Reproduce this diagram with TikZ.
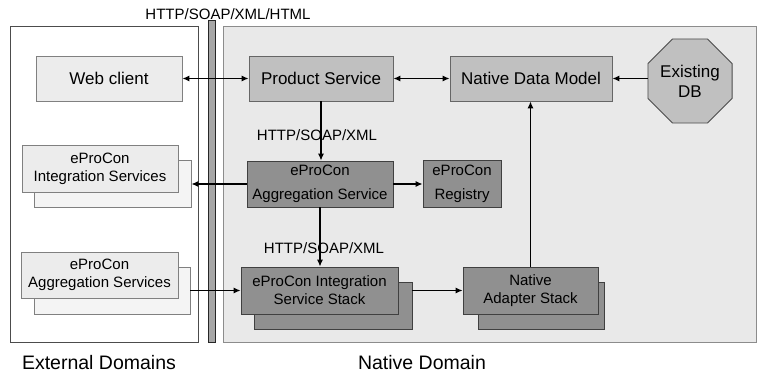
\documentclass[tikz,border=0pt]{standalone}
\usepackage{fontspec}
\setmainfont{Liberation Sans}
\usetikzlibrary{arrows.meta,shapes.geometric}
\definecolor{boxlight}{HTML}{ECECEC}
\definecolor{boxback}{HTML}{F4F4F4}
\definecolor{boxmid}{HTML}{C0C0C0}
\definecolor{boxdark}{HTML}{909090}
\definecolor{nativebg}{HTML}{E9E9E9}
\definecolor{barfill}{HTML}{A6A6A6}
\tikzset{
  big/.style={font=\fontsize{17}{20}\selectfont},
  small/.style={font=\fontsize{15}{18}\selectfont},
  lightbox/.style={draw=black!50, fill=boxlight, line width=0.8pt, inner sep=0pt, align=center},
  backbox/.style={draw=black!50, fill=boxback, line width=0.8pt, inner sep=0pt},
  midbox/.style={draw=black!60, fill=boxmid, line width=0.8pt, inner sep=0pt, align=center},
  darkbox/.style={draw=black!75, fill=boxdark, line width=0.8pt, inner sep=0pt, align=center},
  conn/.style={line width=1.2pt, draw=black, -{Latex[length=7pt,width=6pt]}},
  biconn/.style={line width=1.2pt, draw=black, {Latex[length=7pt,width=6pt]}-{Latex[length=7pt,width=6pt]}},
  lbl/.style={inner sep=0pt, align=center}
}
\begin{document}
\begin{tikzpicture}[x=1pt,y=-1pt]
\useasboundingbox (0,0) rectangle (759,373);
% domains
\node (ext) [draw=black!70, fill=white, line width=0.8pt, minimum width=188pt, minimum height=316pt, inner sep=0pt] at (104,184) {};
\node (native) [draw=black!45, fill=nativebg, line width=0.8pt, minimum width=533pt, minimum height=316pt, inner sep=0pt] at (489.5,184) {};
\node (bar) [draw=black!85, fill=barfill, line width=0.8pt, minimum width=7pt, minimum height=322pt, inner sep=0pt] at (211.5,181) {};
% top row
\node (web) [lightbox, big, minimum width=146pt, minimum height=45pt] at (109,78.5) {Web client};
\node (prod) [midbox, big, minimum width=144pt, minimum height=45pt] at (321,78.5) {Product Service};
\node (ndm) [midbox, big, minimum width=162pt, minimum height=45pt] at (531,78.5) {Native Data Model};
\node (db) [regular polygon, regular polygon sides=8, draw=black!70, fill=boxmid, line width=0.8pt, minimum size=90pt, inner sep=0pt, align=center, font=\fontsize{17}{20}\selectfont] at (690,81) {Existing\\DB};
% external stacks
\node (eisb) [backbox, minimum width=157pt, minimum height=47pt] at (112.5,183.5) {};
\node (eisf) [lightbox, small, minimum width=156pt, minimum height=47pt] at (100,168.5) {eProCon\\Integration Services};
\node (easb) [backbox, minimum width=156pt, minimum height=47pt] at (112,290.5) {};
\node (easf) [lightbox, small, minimum width=157pt, minimum height=46pt] at (99.5,275) {eProCon\\Aggregation Services};
% native middle
\node (agg) [darkbox, font=\fontsize{15}{24}\selectfont, minimum width=146pt, minimum height=46pt] at (320,184) {eProCon\\Aggregation Service};
\node (reg) [darkbox, font=\fontsize{15}{24}\selectfont, minimum width=78pt, minimum height=47pt] at (462,183.5) {eProCon\\Registry};
% native stacks
\node (issb) [darkbox, minimum width=158pt, minimum height=47pt] at (333,305.5) {};
\node (issf) [darkbox, small, minimum width=157pt, minimum height=47pt] at (319.5,290.5) {eProCon Integration\\Service Stack};
\node (nasb) [darkbox, minimum width=126pt, minimum height=47pt] at (541,305.5) {};
\node (nasf) [darkbox, small, minimum width=135pt, minimum height=47pt] at (530.5,290.5) {Native\\Adapter Stack};
% connectors
\draw[biconn] (web.east) -- (prod.west);
\draw[biconn] (prod.east) -- (ndm.west);
\draw[conn] (db.west |- ndm.east) -- (ndm.east);
\draw[conn] (prod.south) -- (prod.south |- agg.north);
\draw[conn] (agg.west) -- (agg.west -| eisb.east);
\draw[conn] (agg.east) -- (agg.east -| reg.west);
\draw[conn] (agg.south) -- (agg.south |- issf.north);
\draw[conn] (easb.east) -- (easb.east -| issf.west);
\draw[conn] (issb.east |- nasf.west) -- (nasf.west);
\draw[conn] (nasf.north) -- (nasf.north |- ndm.south);
% labels
\node (ltop) [lbl, small] at (228,14) {HTTP/SOAP/XML/HTML};
\node (l1) [lbl, small] at (317,135) {HTTP/SOAP/XML};
\node (l2) [lbl, small] at (324,248) {HTTP/SOAP/XML};
\node (lext) [lbl, font=\fontsize{19.5}{22}\selectfont] at (99,363) {External Domains};
\node (lnat) [lbl, font=\fontsize{19.5}{22}\selectfont] at (422,363) {Native Domain};
\end{tikzpicture}
\end{document}
